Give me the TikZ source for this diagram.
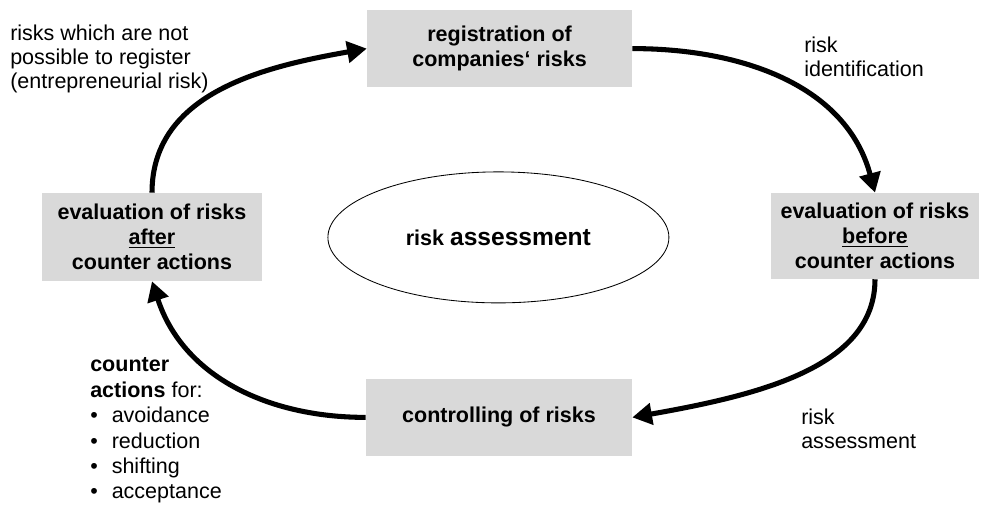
\documentclass[tikz,border=0pt]{standalone}
\usepackage{fontspec}
\setmainfont{Liberation Sans}
\definecolor{boxgray}{RGB}{217,217,217}
\usetikzlibrary{arrows.meta,shapes.geometric}

\begin{document}
\begin{tikzpicture}[every node/.style={font=\fontsize{15.3}{17}\selectfont},
  stage/.style={fill=boxgray,align=center,inner sep=0pt,
                font=\fontsize{15.3}{17.8}\selectfont\bfseries},
  note/.style={align=left,anchor=west,inner sep=0pt},
  flow/.style={line width=3.6pt,-{Triangle[length=14pt,width=15pt]}}]
  \useasboundingbox (0,0) rectangle (24.675,12.625);
  %% stages of the cycle
  \node[stage,minimum width=6.625cm,minimum height=1.925cm]
        (reg) at (12.49,11.41) {registration of\\companies‘ risks};
  \node[stage,minimum width=5.2cm,minimum height=2.15cm]
        (before) at (21.875,6.725) {evaluation of risks\\\underline{before}\\counter actions};
  \node[stage,minimum width=6.65cm,minimum height=1.925cm]
        (ctrl) at (12.475,2.19) {controlling of risks};
  \node[stage,minimum width=5.5cm,minimum height=2.2cm]
        (after) at (3.8,6.7) {evaluation of risks\\\underline{after}\\counter actions};
  %% centre
  \node[draw,ellipse,line width=0.6pt,inner sep=0pt,
        minimum width=8.525cm,minimum height=3.275cm]
        (core) at (12.46,6.69)
        {\bfseries risk {\fontsize{17.5}{20}\selectfont assessment}};
  %% cycle arrows
  \draw[flow] (after.north) to[out=90,in=190] (reg.west);
  \draw[flow] (reg.east) to[out=0,in=105] (before.north);
  \draw[flow] (before.south) to[out=-90,in=10,out looseness=0.8,in looseness=1.2] (ctrl.east);
  \draw[flow] (ctrl.west) to[out=180,in=-72] (after.south);
  %% notes
  \node[note] (unreg) at (0.25,11.15)
        {risks which are not\\possible to register\\(entrepreneurial risk)};
  \node[note] (ident) at (20.1,11.21) {risk\\identification};
  \node[note] (assess) at (20.025,1.9) {risk\\assessment};
  \node[note,font=\fontsize{15.3}{18.1}\selectfont] (counter) at (2.25,1.86) {%
    \textbf{counter}\\
    \textbf{actions} for:\\
    \makebox[1em][l]{\textbullet}avoidance\\
    \makebox[1em][l]{\textbullet}reduction\\
    \makebox[1em][l]{\textbullet}shifting\\
    \makebox[1em][l]{\textbullet}acceptance};
\end{tikzpicture}
\end{document}
